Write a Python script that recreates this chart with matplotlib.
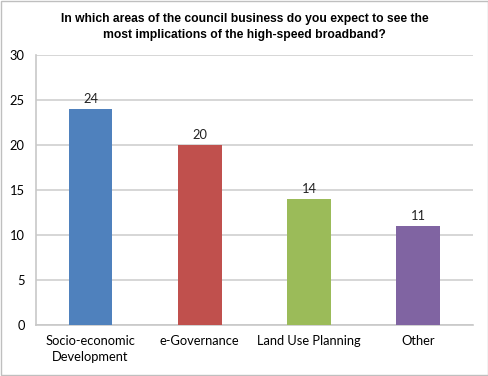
import matplotlib
matplotlib.use("Agg")
import matplotlib.pyplot as plt
import numpy as np

categories = ["Socio-economic\nDevelopment", "e-Governance", "Land Use Planning", "Other"]
values = [24, 20, 14, 11]
colors = ["#4F81BD", "#C0504D", "#9BBB59", "#8064A2"]
yticks = [0, 5, 10, 15, 20, 25, 30]

fig = plt.figure(figsize=(4.89, 3.76), dpi=100)
ax = fig.add_axes([0.0736, 0.136, 0.893, 0.718])

x = np.arange(len(categories))
bars = ax.bar(x, values, width=0.4, color=colors, zorder=3)
for b, v in zip(bars, values):
    ax.text(b.get_x() + b.get_width() / 2, v + 0.4, str(v), ha="center", va="bottom",
            fontsize=9.3, family="Lato", color="#222222")

ax.set_xlim(-0.5, len(categories) - 0.5)
ax.set_ylim(0, 30)
ax.set_yticks(yticks)
ax.set_xticks(x)
ax.set_xticklabels(categories, family="Lato", fontsize=9.3, linespacing=1.45)
for lab in ax.get_yticklabels():
    lab.set_family("Lato")
    lab.set_fontsize(9.3)
ax.tick_params(length=0, pad=8)
ax.tick_params(axis="x", pad=7)
ax.yaxis.grid(True, color="#d0d0d0", linewidth=1.2, zorder=0)
for s in ["top", "right"]:
    ax.spines[s].set_visible(False)
for s in ["left", "bottom"]:
    ax.spines[s].set_color("#c8c8c8")
    ax.spines[s].set_linewidth(1.2)

fig.text(0.5, 0.929, "In which areas of the council business do you expect to see the\nmost implications of the high-speed broadband?",
         ha="center", va="center", fontsize=8.7, fontweight="bold", family="Liberation Sans",
         linespacing=1.45)

fig.patches.append(plt.Rectangle((0.002, 0.003), 0.995, 0.994, transform=fig.transFigure,
                                 fill=False, edgecolor="#bfbfbf", linewidth=1))

fig.savefig("out.png", dpi=100)
